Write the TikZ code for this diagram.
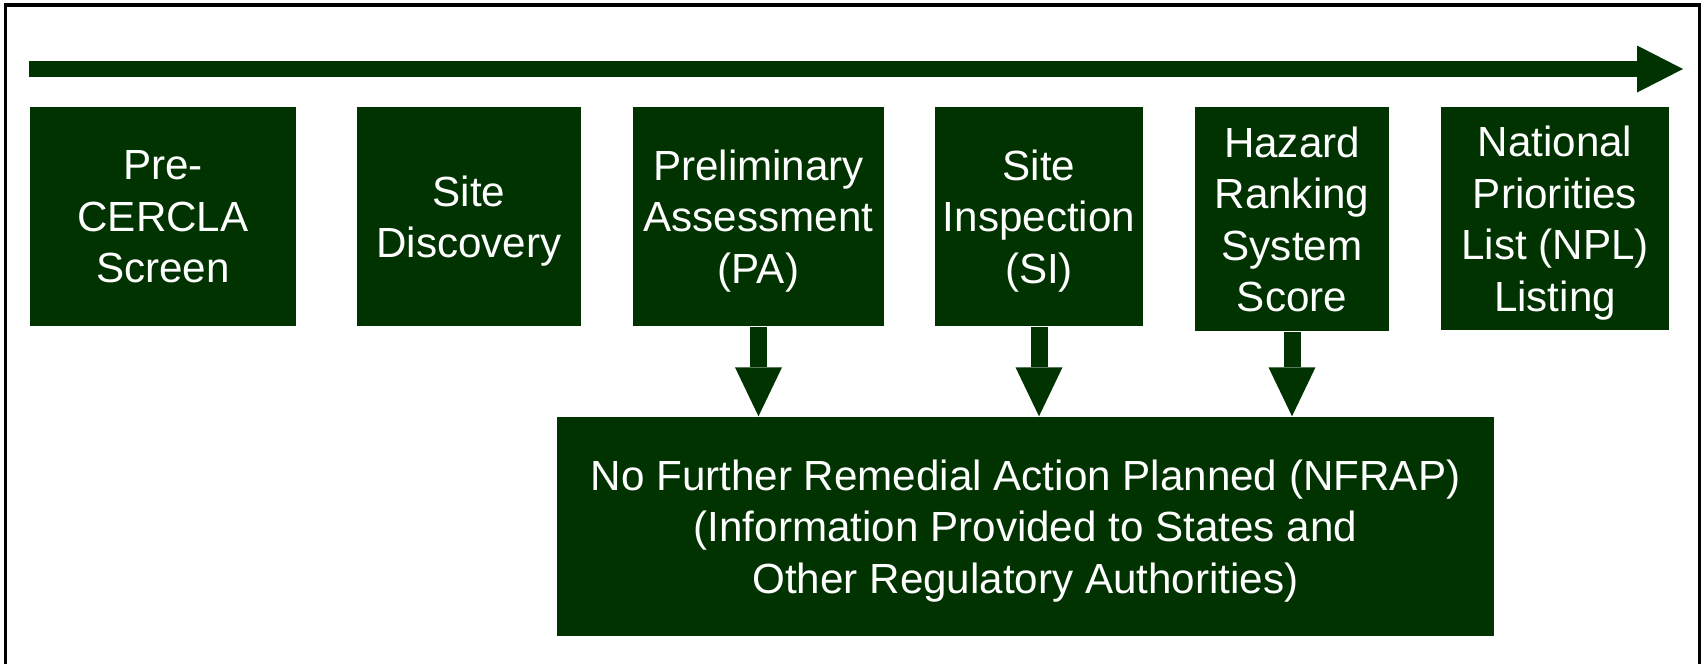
\documentclass[tikz,border=0pt]{standalone}
\usepackage{fontspec}
\setmainfont{Liberation Sans}
\usetikzlibrary{calc}
\usetikzlibrary{arrows.meta}
\definecolor{cerclagreen}{RGB}{0,51,0}

\begin{document}
\begin{tikzpicture}

    \tikzset{stage/.style={fill=cerclagreen, text=white, align=center, inner sep=0pt, text depth=0pt,
        minimum height=2.19cm, font=\fontsize{12}{14.65}\selectfont},
        flow/.style={cerclagreen, line width=.17cm,
        -{Triangle[length=.49cm, width=.47cm, line width=0pt]}}
    }
    \useasboundingbox (0, 0) rectangle (17.03, -6.63);

    % frame, open at the bottom
    \draw [line width=.035cm] (.055, -6.8) -- (.055, -.05) -- (16.995, -.05) -- (16.995, -6.8);

    % time line
    \coordinate (T0) at (.29, -.69);
    \coordinate (T1) at (16.83, -.69);
    \draw [cerclagreen, line width=.16cm, -{Triangle[length=.46cm, width=.47cm, line width=0pt]}] (T0) -- (T1);

    \node [stage, minimum width=2.66cm] (PC) at (1.63, -2.165) {Pre-\\CERCLA\\Screen};
    \node [stage, minimum width=2.24cm] (SD) at (4.69, -2.165) {Site\\Discovery};
    \node [stage, minimum width=2.51cm] (PA) at (7.585, -2.165) {Preliminary\\Assessment\\(PA)};
    \node [stage, minimum width=2.08cm] (SI) at (10.39, -2.165) {Site\\Inspection\\(SI)};
    \node [stage, minimum width=1.94cm, minimum height=2.24cm] (HRS) at (12.92, -2.19) {Hazard\\Ranking\\System\\Score};
    \node [stage, minimum width=2.28cm, minimum height=2.23cm] (NPL) at (15.55, -2.185) {National\\Priorities\\List (NPL)\\Listing};

    \node [stage, minimum width=9.37cm] (NF) at (10.255, -5.265)
        {No Further Remedial Action Planned (NFRAP)\\(Information Provided to States and\\Other Regulatory Authorities)};

    \draw [flow] (PA.south) -- (PA.south |- NF.north);
    \draw [flow] (SI.south) -- (SI.south |- NF.north);
    \draw [flow] (HRS.south) -- (HRS.south |- NF.north);

\end{tikzpicture}
\end{document}
